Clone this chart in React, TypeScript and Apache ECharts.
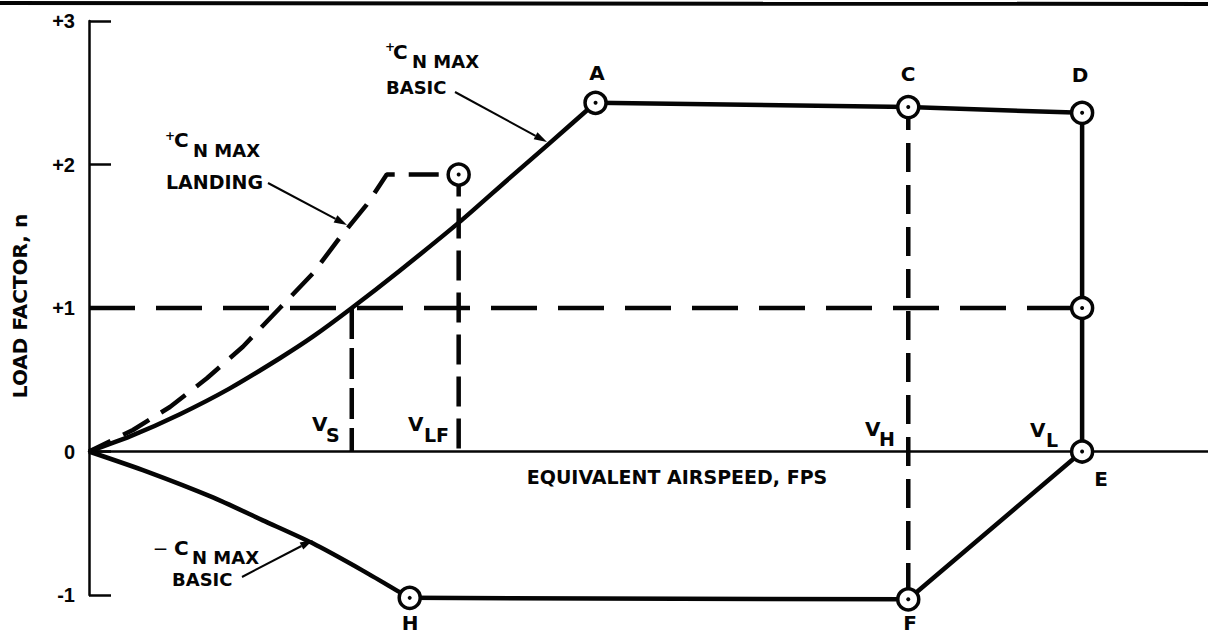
import React, { useEffect, useRef } from 'react';
import * as echarts from 'echarts';

// ---- data (airspeed in chart units, load factor n) ----
const yTickValues = [-1, 0, 1, 2, 3];
const yTickLabels = ['-1', '0', '+1', '+2', '+3'];

const basicPosV = [0, 4.1, 9.1, 14.1, 19.1, 22.4, 26.3, 31.1, 37.1, 42.0, 45.8, 50.7];
const basicPosN = [0, 0.105, 0.26, 0.44, 0.65, 0.8, 1.0, 1.26, 1.6, 1.9, 2.13, 2.43];

const landingV = [0, 4.4, 8.1, 11.8, 15.4, 19.1, 22.4, 25.1, 27.8, 29.8, 37.0];
const landingN = [0, 0.15, 0.31, 0.51, 0.73, 1.0, 1.24, 1.49, 1.72, 1.93, 1.93];

const basicNegV = [0, 5.8, 12.4, 17.4, 22.4, 27.4, 31.1, 32.1];
const basicNegN = [0, -0.14, -0.32, -0.48, -0.64, -0.83, -0.98, -1.02];

const envelopeV = [50.7, 82.0, 99.4, 99.4, 99.4, 82.0, 32.1];
const envelopeN = [2.43, 2.4, 2.36, 1.0, 0, -1.03, -1.02];

const pointNames = ['A', 'C', 'D', '+1', 'E', 'F', 'H', 'LF'];
const pointV = [50.7, 82.0, 99.4, 99.4, 99.4, 82.0, 32.1, 37.0];
const pointN = [2.43, 2.4, 2.36, 1.0, 0, -1.03, -1.02, 1.93];

const onePlusV = [0, 99.4];
const onePlusN = [1, 1];
const vsV = [26.3, 26.3];
const vsN = [1, 0];
const vlfV = [37.0, 37.0];
const vlfN = [1.93, 0];
const vhV = [82.0, 82.0];
const vhN = [2.4, -1.03];

const zip = (a: number[], b: number[]) => a.map((v, i) => [v, b[i]]);

const INK = '#050505';
const WORD_FONT = '"DejaVu Sans", sans-serif';

function txt(text: string, x: number, y: number, size = 19, align = 'left', extra: any = {}) {
  return {
    type: 'text',
    x,
    y,
    z: 50,
    ...extra,
    style: {
      text,
      fill: INK,
      fontFamily: WORD_FONT,
      fontWeight: 'bold',
      fontSize: size,
      textAlign: align,
      textVerticalAlign: 'middle',
      verticalAlign: 'middle',
    },
  };
}

function arrow(x1: number, y1: number, x2: number, y2: number) {
  const a = Math.atan2(y2 - y1, x2 - x1);
  const L = 13;
  const W = 4;
  const bx = x2 - L * Math.cos(a);
  const by = y2 - L * Math.sin(a);
  return [
    {
      type: 'line',
      z: 50,
      shape: { x1, y1, x2: bx, y2: by },
      style: { stroke: INK, lineWidth: 2 },
    },
    {
      type: 'polygon',
      z: 50,
      shape: {
        points: [
          [x2, y2],
          [bx + W * Math.sin(a), by - W * Math.cos(a)],
          [bx - W * Math.sin(a), by + W * Math.cos(a)],
        ],
      },
      style: { fill: INK },
    },
  ];
}

export default function App() {
  const ref = useRef<HTMLDivElement>(null);
  useEffect(() => {
    if (!ref.current) return;
    const chart = echarts.init(ref.current, undefined, { renderer: 'svg' });
    const solid = (name: string, data: number[][], smooth: number | boolean = false) => ({
      name,
      type: 'line',
      data,
      smooth,
      clip: false,
      symbol: 'none',
      z: 5,
      lineStyle: { color: INK, width: 4.5, join: 'round' },
    });
    const dashed = (name: string, data: number[][], dash: number[], offset = 0) => ({
      name,
      type: 'line',
      data,
      clip: false,
      symbol: 'none',
      z: 4,
      lineStyle: { color: INK, width: 4.5, type: dash, dashOffset: offset },
    });
    const points = zip(pointV, pointN);
    chart.setOption({
      animation: false,
      backgroundColor: '#ffffff',
      grid: { left: 89, top: 21, width: 1120, height: 574 },
      xAxis: {
        type: 'value',
        min: 0,
        max: 112,
        axisLine: { show: true, onZero: true, lineStyle: { color: INK, width: 2.5 } },
        axisTick: { show: false },
        axisLabel: { show: false },
        splitLine: { show: false },
      },
      yAxis: {
        type: 'value',
        min: -1,
        max: 3,
        interval: 1,
        axisLine: { show: true, onZero: true, lineStyle: { color: INK, width: 2.5 } },
        axisTick: { show: true, inside: true, length: 22, lineStyle: { color: INK, width: 2.5 } },
        axisLabel: {
          margin: 14,
          color: INK,
          fontFamily: '"Liberation Sans", Arial, sans-serif',
          fontWeight: 'bold',
          fontSize: 20,
          formatter: (v: number) => yTickLabels[yTickValues.indexOf(Math.round(v))] ?? '',
        },
        splitLine: { show: false },
      },
      series: [
        solid('basicPos', zip(basicPosV, basicPosN), 0.25),
        solid('envelope', zip(envelopeV, envelopeN)),
        solid('basicNeg', zip(basicNegV, basicNegN), 0.25),
        dashed('landing', zip(landingV, landingN), [30, 14], 6),
        dashed('onePlus', zip(onePlusV, onePlusN), [46, 21]),
        dashed('vs', zip(vsV, vsN), [31, 9]),
        dashed('vlf', zip(vlfV, vlfN), [30, 12], 8),
        dashed('vh', zip(vhV, vhN), [29, 13], 6),
        {
          name: 'markers',
          type: 'scatter',
          data: points,
          clip: false,
          symbol: 'circle',
          symbolSize: 21,
          z: 10,
          itemStyle: { color: '#ffffff', borderColor: INK, borderWidth: 3.5, opacity: 1 },
        },
        {
          name: 'dots',
          type: 'scatter',
          data: points,
          clip: false,
          symbol: 'circle',
          symbolSize: 4,
          z: 11,
          itemStyle: { color: INK, opacity: 1 },
        },
      ],
      graphic: [
        // top page edge
        { type: 'line', z: 60, shape: { x1: 0, y1: 3, x2: 1208, y2: 4 }, style: { stroke: INK, lineWidth: 4 } },
        // y axis title
        txt('LOAD FACTOR, n', 20, 306, 20, 'center', { rotation: Math.PI / 2 }),
        // x axis title
        txt('EQUIVALENT AIRSPEED, FPS', 677, 477, 19, 'center'),
        // point letters
        txt('A', 597, 73, 20, 'center'),
        txt('C', 908, 74, 20, 'center'),
        txt('D', 1080, 75, 20, 'center'),
        txt('E', 1101, 479, 20, 'center'),
        txt('F', 910, 623, 20, 'center'),
        txt('H', 410, 623, 20, 'center'),
        // speed labels
        txt('V', 312, 423.5, 20),
        txt('S', 326, 434.5, 19),
        txt('V', 408, 423.5, 20),
        txt('LF', 424, 434.5, 19),
        txt('V', 865, 429, 20),
        txt('H', 879, 439, 19),
        txt('V', 1030, 430, 20),
        txt('L', 1046, 440, 19),
        // +CN MAX BASIC
        txt('+', 385, 47, 12),
        txt('C', 393, 51.5, 20),
        txt('N MAX', 412, 61, 18),
        txt('BASIC', 386, 87.5, 18),
        ...arrow(455, 92, 547, 142),
        // +CN MAX LANDING
        txt('+', 165, 136, 12),
        txt('C', 174, 140, 20),
        txt('N MAX', 193, 150, 18),
        txt('LANDING', 166, 182, 19),
        ...arrow(268, 183, 347, 225),
        // -CN MAX BASIC
        txt('—', 154, 548, 13),
        txt('C', 174, 548, 20),
        txt('N MAX', 192, 557, 18),
        txt('BASIC', 172, 579.5, 18),
        ...arrow(242, 577, 313, 540),
      ],
    });
    return () => chart.dispose();
  }, []);
  return (
    <div
      ref={ref}
      style={{ position: 'absolute', left: 0, top: 0, width: 1208, height: 636, background: '#fff' }}
    />
  );
}
